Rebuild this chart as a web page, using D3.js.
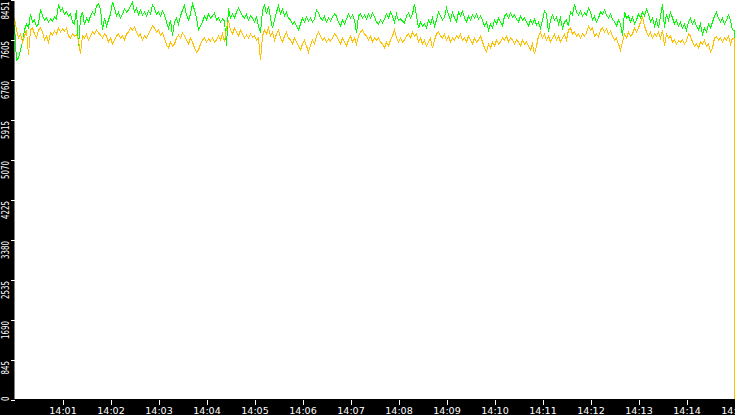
<!DOCTYPE html>
<html>
<head>
<meta charset="utf-8">
<script src="https://cdn.jsdelivr.net/npm/d3@7"></script>
<style>
    body { margin: 0; background: #fff; overflow: hidden; }
    svg { display: block; }
    .tick-text { fill: #fff; font-family: "DejaVu Sans", sans-serif; }
</style>
</head>
<body>
<div id="chart-area"></div>
<script>

// sampling clock of the recorder
var startTime = "2000-01-01T14:00:00";
var endTime = "2000-01-01T14:15:00";
var stepSeconds = 2.5;

// upper (green) series
var greenValues = [
    7901,7161,7204,7373,7542,7795,7922,7837,8133,7964,
    8006,7880,7922,8239,8091,8006,8049,7964,8028,7985,
    8070,8028,8344,8197,8260,8133,8175,8091,8133,7964,
    7922,8218,7457,8049,8175,7901,8049,7964,8091,8175,
    8112,8302,8344,8239,7795,8049,7880,8006,8133,8387,
    8260,8091,8175,8049,8133,8239,8175,8218,8302,8387,
    8175,8260,8112,8218,8112,8175,8091,8197,8133,8323,
    8260,8133,8175,8091,8197,8112,7964,7837,8006,7668,
    7964,8049,7922,8091,8218,8323,8112,8006,8133,8344,
    8218,8049,7795,7880,7964,8091,8006,8133,8049,8091,
    8154,8006,8049,7964,8028,7985,7457,8260,8049,8133,
    8049,8175,8260,8175,8091,8049,8133,8006,8091,8049,
    7964,8070,7880,7732,8218,8323,8133,8302,8049,7837,
    8006,8175,8302,8133,8239,8091,8175,8049,8006,7922,
    7964,7880,7795,7922,8049,7964,8070,7985,8049,7964,
    8028,8218,8154,8049,8006,8091,7964,8049,7985,8070,
    8133,8091,7964,7880,8006,7922,8028,8133,8049,8112,
    8006,7732,8091,8133,8049,8112,8028,8133,8049,8154,
    8070,7964,7922,8006,7943,8028,8133,8049,8175,8091,
    7964,8133,8006,8028,7985,7943,8091,8154,8049,8133,
    8344,8091,7837,7964,7880,7922,7837,8006,7922,8049,
    7880,8006,8175,8091,8006,8070,8260,8133,8006,8175,
    8049,7964,8175,8091,8197,8049,7964,8091,8006,8112,
    8049,8133,8028,8091,8006,7880,7964,7795,7922,7837,
    8006,7922,8049,7964,7880,8091,8133,8049,8154,8070,
    8112,8028,7964,8091,8006,8049,7964,7880,8006,7922,
    8028,7901,7964,7837,8006,8197,8133,7753,8006,8112,
    8006,8070,7922,8049,7837,7964,8006,7880,8175,8112,
    8344,8175,8112,8197,8091,8154,8112,8260,8175,8006,
    8091,7964,8049,8175,8133,8218,8112,8049,8133,8028,
    7964,7880,8006,7922,7668,8175,8049,8091,7964,8070,
    7922,8006,8133,8049,8175,8091,8239,8133,7964,8049,
    7880,8006,7837,8091,8344,7837,8133,8006,8175,8049,
    7922,8006,7880,7964,7837,7922,7795,7964,8049,7922,
    8006,7880,7795,7922,7711,7837,7753,7922,7837,7964,
    8091,8175,8049,7964,8049,7922,8006,8112,8006,7795,
    3850
];

// lower (orange) series
var orangeValues = [
    8049,7795,7626,7711,7542,7668,7795,7267,7795,7837,
    7711,7626,7795,7837,7753,7584,7668,7542,7732,7690,
    7774,7711,7837,7753,7816,7774,7837,7668,7626,7711,
    7668,7690,7584,7288,7668,7626,7711,7584,7668,7753,
    7711,7795,7732,7690,7626,7711,7668,7542,7626,7499,
    7584,7668,7711,7626,7668,7584,7711,7753,7837,7795,
    7859,7753,7668,7711,7584,7668,7626,7711,7795,7880,
    7837,7753,7795,7690,7732,7626,7478,7415,7542,7457,
    7499,7626,7690,7626,7732,7668,7584,7499,7626,7542,
    7415,7330,7373,7499,7584,7626,7542,7605,7563,7626,
    7542,7584,7668,7584,7711,7542,7837,8006,7795,7711,
    7837,7753,7668,7795,7711,7626,7690,7626,7711,7647,
    7668,7584,7626,7161,7668,7795,7711,7837,7668,7753,
    7584,7711,7795,7626,7542,7668,7753,7626,7584,7499,
    7626,7542,7457,7373,7499,7584,7457,7330,7478,7584,
    7499,7668,7753,7668,7584,7626,7542,7605,7563,7626,
    7711,7668,7584,7499,7626,7542,7457,7584,7668,7542,
    7626,7499,7668,7753,7795,7711,7668,7584,7668,7542,
    7626,7584,7626,7542,7499,7415,7542,7457,7584,7668,
    7795,7626,7542,7626,7542,7584,7668,7711,7626,7753,
    7668,7711,7542,7626,7499,7584,7457,7542,7626,7415,
    7584,7711,7753,7668,7626,7711,7584,7668,7542,7626,
    7584,7668,7626,7711,7584,7626,7542,7668,7584,7499,
    7626,7542,7584,7668,7542,7415,7330,7499,7415,7542,
    7457,7584,7499,7542,7626,7584,7668,7542,7626,7584,
    7499,7584,7542,7457,7584,7499,7542,7457,7373,7499,
    7288,7457,7668,7753,7626,7711,7584,7668,7542,7626,
    7711,7584,7668,7542,7626,7711,7584,7795,7837,7711,
    7753,7668,7711,7626,7711,7668,7732,7880,7795,7837,
    7668,7711,7647,7795,7837,7753,7816,7711,7774,7668,
    7584,7626,7499,7373,7542,7711,7626,7753,7668,7711,
    7837,7753,7837,7964,8070,7880,7753,7668,7753,7626,
    7711,7668,7753,7626,7795,7457,7711,7626,7668,7542,
    7584,7499,7563,7542,7584,7499,7563,7711,7668,7542,
    7457,7499,7415,7542,7499,7584,7457,7499,7330,7415,
    7626,7647,7584,7626,7542,7626,7584,7668,7499,7626,
    0
];

var yTickValues = [0, 845, 1690, 2535, 3380, 4225, 5070, 5915, 6760, 7605, 8451];
var xTickLabels = ["14:01","14:02","14:03","14:04","14:05","14:06","14:07","14:08",
                   "14:09","14:10","14:11","14:12","14:13","14:14","14:15"];

var seriesColors = ["#00ff00", "#ffc000"];


var width = 735, height = 415;
var plotLeft = 14.5, plotRight = 734.5, plotBottom = 399;

var svg = d3.select("#chart-area").append("svg")
    .attr("width", width)
    .attr("height", height);

var parseTime = d3.timeParse("%Y-%m-%dT%H:%M:%S");
var t0 = parseTime(startTime), t1 = parseTime(endTime);

var x = d3.scaleTime()
    .domain([t0, t1])
    .range([plotLeft, plotRight]);

var y = d3.scaleLinear()
    .domain([0, 8451])
    .range([plotBottom, -1]);

function toPoints(values) {
    return values.map(function(v, i) {
        return { t: new Date(t0.getTime() + i * stepSeconds * 1000), v: v };
    });
}

var line = d3.line()
    .x(function(d) { return x(d.t); })
    .y(function(d) { return y(d.v); });

// the final sample drops straight down at the right edge
var dropLine = d3.line()
    .curve(d3.curveStepAfter)
    .x(function(d) { return x(d.t); })
    .y(function(d) { return y(d.v); });

// green first, orange painted over it
[greenValues, orangeValues].forEach(function(values, k) {
    var pts = toPoints(values);
    svg.append("path")
        .datum(pts.slice(0, -1))
        .attr("fill", "none")
        .attr("stroke", seriesColors[k])
        .attr("stroke-width", 1)
        .attr("shape-rendering", "crispEdges")
        .attr("d", line);
    svg.append("path")
        .datum(pts.slice(-2))
        .attr("fill", "none")
        .attr("stroke", seriesColors[k])
        .attr("stroke-width", 1)
        .attr("shape-rendering", "crispEdges")
        .attr("d", dropLine);
});

// black axis bands
svg.append("rect")
    .attr("x", 0).attr("y", 0)
    .attr("width", plotLeft).attr("height", height)
    .attr("fill", "#000");
svg.append("rect")
    .attr("x", 0).attr("y", plotBottom)
    .attr("width", width).attr("height", height - plotBottom)
    .attr("fill", "#000");

// bottom axis
var parseTick = d3.timeParse("%H:%M");
var xTicks = xTickLabels.map(function(s) {
    var d = parseTick(s);
    return new Date(t0.getFullYear(), t0.getMonth(), t0.getDate(), d.getHours(), d.getMinutes());
});

var xAxis = d3.axisBottom(x)
    .tickValues(xTicks)
    .tickSize(5)
    .tickSizeOuter(0)
    .tickFormat(function(d, i) { return xTickLabels[i]; });

var gx = svg.append("g")
    .attr("transform", "translate(0," + (plotBottom + 0.5) + ")")
    .call(xAxis);
gx.select(".domain").remove();
gx.selectAll("line").attr("stroke", "#fff").attr("shape-rendering", "crispEdges");
gx.selectAll("text")
    .attr("class", "tick-text")
    .attr("y", 8)
    .attr("dy", "0.71em")
    .style("font-size", "9.5px")
    .attr("textLength", function(d, i) { return xTickLabels[i].length * 5.5; })
    .attr("lengthAdjust", "spacingAndGlyphs");

// left axis, labels turned on their side
var yAxis = d3.axisLeft(y)
    .tickValues(yTickValues)
    .tickSize(4)
    .tickSizeOuter(0)
    .tickFormat(d3.format("d"));

var gy = svg.append("g")
    .attr("transform", "translate(" + (plotLeft + 0.5) + ",0.5)")
    .call(yAxis);
gy.select(".domain").remove();
gy.selectAll("line").attr("stroke", "#fff").attr("shape-rendering", "crispEdges");
gy.selectAll("text")
    .attr("class", "tick-text")
    .style("font-size", "11px")
    .attr("text-anchor", "end")
    .attr("transform", "rotate(-90)")
    .attr("dy", 0)
    .attr("y", -6)
    .attr("textLength", function(d) { return String(d).length * 4.5; })
    .attr("lengthAdjust", "spacingAndGlyphs")
    .attr("x", function(d) {
        var ty = y(d);
        var len = String(d).length * 4.5;
        var p = Math.max(0.5, Math.min(ty + 1, plotBottom + 1 - len));
        return -(p - ty);
    });

</script>
</body>
</html>
